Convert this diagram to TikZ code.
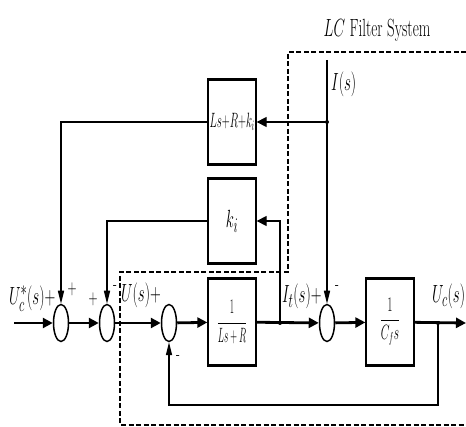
\documentclass[tikz,border=0pt]{standalone}
\usepackage{fontspec}
\usepackage{graphicx}
\usetikzlibrary{shapes.geometric,arrows.meta}
\newcommand{\sq}[1]{\scalebox{0.6}[1]{#1}}
\newcommand{\wire}{1.3pt}
\newcommand{\trunk}{2.8pt}
\tikzset{
  sumnode/.style={draw, ellipse, line width=1.5pt, minimum width=15pt, minimum height=37pt, inner sep=0pt},
  tfblock/.style={draw, line width=\wire, minimum width=48pt, minimum height=86pt, inner sep=0pt, font=\huge},
  blockedge/.style={line width=2.8pt},
  mainline/.style={line width=\trunk},
  fbline/.style={line width=\wire},
  harrow/.style={-{Triangle[length=10pt,width=10pt]}},
  varrow/.style={-{Triangle[length=13pt,width=6pt]}},
  lcframe/.style={line width=1.5pt, dash pattern=on 5pt off 2.5pt},
  lbl/.style={font=\Huge, inner sep=0pt},
  sgn/.style={font=\huge, inner sep=0pt}
}

\begin{document}
\begin{tikzpicture}[x=1pt, y=-1pt]
\useasboundingbox (0,0) rectangle (466,427);
% summing junctions
\node[sumnode] (s1) at (61,323) {};
\node[sumnode] (s2) at (107,323) {};
\node[sumnode] (s3) at (169,323) {};
\node[sumnode] (s4) at (327,323) {};
% blocks
\node[tfblock] (g1) at (232,322) {\scalebox{0.45}[1]{$\displaystyle\frac{1}{Ls+R}$}};
\node[tfblock] (g2) at (390,322) {\scalebox{0.55}[1]{$\displaystyle\frac{1}{C_f s}$}};
\node[tfblock, minimum height=83pt, font=\Huge] (ki) at (232,221) {\sq{$k_i$}};
\node[tfblock, minimum height=84pt] (kb) at (232,122) {\scalebox{0.53}[1]{$Ls{+}R{+}k_i$}};
\foreach \b in {g1,g2,ki,kb}
  \draw[blockedge] (\b.north west) -- (\b.north east) (\b.south west) -- (\b.south east);
% branch points
\coordinate (in) at (14,323);
\coordinate (jt) at (280,323);
\coordinate (jo) at (438,323);
\coordinate (out) at (466,323);
\coordinate (itop) at (327,60);
\coordinate (ji) at (itop |- kb.east);
% forward path
\draw[mainline,harrow] (in) -- (s1);
\draw[mainline,harrow] (s1) -- (s2);
\draw[mainline,harrow] (s2) -- (s3);
\draw[mainline,harrow] (s3) -- (g1);
\draw[mainline,harrow] (g1) -- (s4);
\draw[mainline,harrow] (s4) -- (g2);
\draw[mainline,harrow] (g2) -- (out);
% feedback paths
\draw[fbline,varrow] (jo) -- ++(0,82) -| (s3.south);
\draw[fbline,varrow] (itop) -- (s4.north);
\draw[fbline,harrow] (ji) -- (kb.east);
\draw[fbline,varrow] (kb.west) -| (s1.north);
\draw[fbline,harrow] (jt) |- (ki.east);
\draw[fbline,varrow] (ki.west) -| (s2.north);
\fill (ji) circle (2pt);
\fill (jt) circle (2pt);
\fill (jo) circle (2pt);
% LC filter frame
\draw[lcframe] (466,52) -- (288,52) -- (288,272) -- (120,272) -- (120,425) -- (466,425);
% labels
\node[lbl, anchor=base] (lctitle) at (377,37) {\sq{$LC$ Filter System}};
\node[lbl, anchor=base west] (lis) at (331,91) {\sq{$I(s)$}};
\node[lbl, anchor=base west] (lucref) at (9,305) {\sq{$U_c^*(s)$+}};
\node[sgn] (p1) at (72,289) {\sq{+}};
\node[sgn] (p2) at (93,299) {\sq{+}};
\node[sgn] (m2) at (115,288) {\sq{-}};
\node[lbl, anchor=base west] (lus) at (121,302) {\sq{$U(s)$+}};
\node[sgn] (m3) at (178,358) {\sq{-}};
\node[lbl, anchor=base west] (lits) at (282,303) {\sq{$I_t(s)$+}};
\node[sgn] (m4) at (337,288) {\sq{-}};
\node[lbl, anchor=base west] (lucs) at (432,303) {\sq{$U_c(s)$}};
\end{tikzpicture}
\end{document}
